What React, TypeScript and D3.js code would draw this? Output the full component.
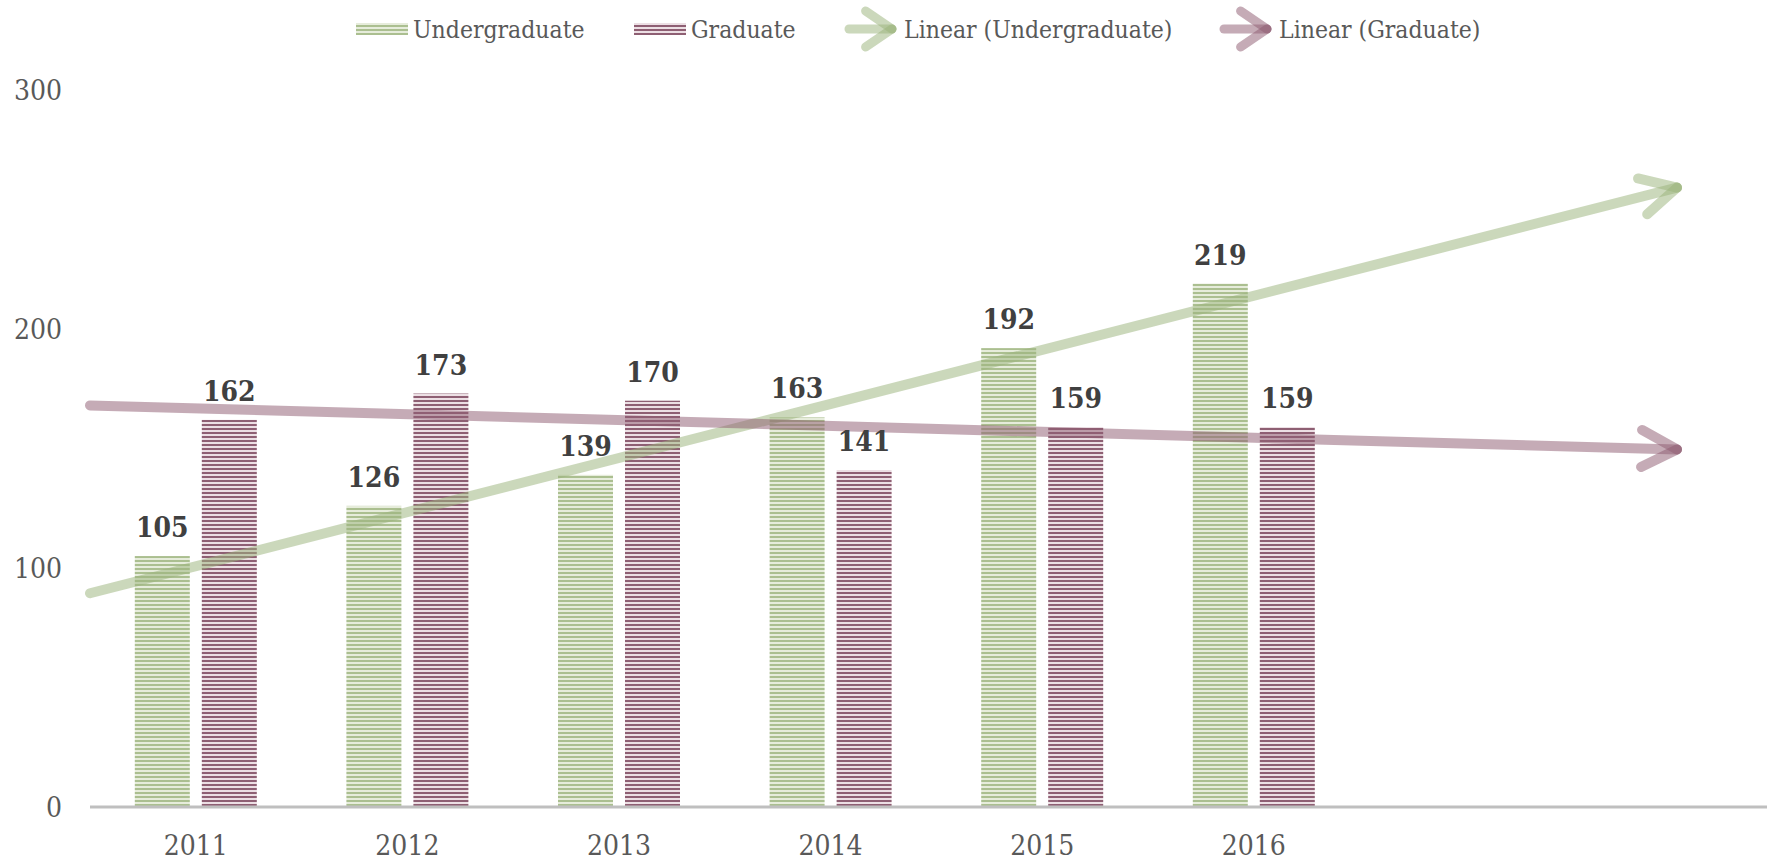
import * as d3 from "d3"

const years = ["2011", "2012", "2013", "2014", "2015", "2016"]
const undergraduate = [105, 126, 139, 163, 192, 219]
const graduate = [162, 173, 170, 141, 159, 159]
const yTicks = [0, 100, 200, 300]
const forecastForward = 2
const forecastBackward = 0.5

const W = 1767
const H = 862
const FONT = "'DejaVu Serif Condensed', 'DejaVu Serif', serif"

const UG_DARK = "#abbf90"
const UG_LIGHT = "#e6ecdb"
const GR_DARK = "#8e5f73"
const GR_LIGHT = "#ecdfe4"
const UG_TREND = "#9bb47c"
const GR_TREND = "#8f5d73"

// least squares on x = 1..n, returns f(x)
function linearFit(values: number[]) {
  const xs = values.map((_, i) => i + 1)
  const mx = d3.mean(xs)!
  const my = d3.mean(values)!
  const num = d3.sum(xs, (x, i) => (x - mx) * (values[i] - my))
  const den = d3.sum(xs, x => (x - mx) ** 2)
  const slope = num / den
  return (x: number) => my + slope * (x - mx)
}

function Arrow({ x1, y1, x2, y2, color, width, arm, angle }: any) {
  const a = Math.atan2(y2 - y1, x2 - x1)
  const arms = [a + Math.PI - angle, a + Math.PI + angle].map(t => [
    x2 + arm * Math.cos(t),
    y2 + arm * Math.sin(t),
  ])
  const common = {
    stroke: color,
    strokeWidth: width,
    strokeLinecap: "round" as const,
    strokeOpacity: 0.52,
  }
  return (
    <g>
      <line x1={x1} y1={y1} x2={x2} y2={y2} {...common} />
      {arms.map(([ax, ay], i) => (
        <line key={i} x1={x2} y1={y2} x2={ax} y2={ay} {...common} />
      ))}
    </g>
  )
}

export default function App() {
  const margin = { left: 90, top: 90, bottom: 807 }
  const step = 211.6

  // index space: category i centered at i + 0.5
  const x = d3.scaleLinear().domain([0, 1]).range([margin.left, margin.left + step])
  const y = d3.scaleLinear().domain([0, 300]).range([margin.bottom, margin.top])

  const barW = 55
  const gap = 12
  const off = (barW + gap) / 2

  const trends = [
    { values: undergraduate, color: UG_TREND },
    { values: graduate, color: GR_TREND },
  ].map(t => {
    const f = linearFit(t.values)
    const t0 = 1 - forecastBackward
    const t1 = t.values.length + forecastForward
    return {
      color: t.color,
      x1: x(t0 - 0.5),
      y1: y(f(t0)),
      x2: x(t1 - 0.5),
      y2: y(f(t1)),
    }
  })

  const series = [
    { name: "Undergraduate", values: undergraduate, pat: "url(#pUg)", dx: -off },
    { name: "Graduate", values: graduate, pat: "url(#pGr)", dx: off },
  ]

  const legendY = 29
  const legend = [
    { kind: "bar", pat: "url(#pUgL)", x: 356, label: "Undergraduate" },
    { kind: "bar", pat: "url(#pGrL)", x: 634, label: "Graduate" },
    { kind: "arrow", color: UG_TREND, x: 845, label: "Linear (Undergraduate)" },
    { kind: "arrow", color: GR_TREND, x: 1220, label: "Linear (Graduate)" },
  ]

  return (
    <svg
      width={W}
      height={H}
      style={{ position: "absolute", left: 0, top: 0, display: "block", background: "#fff" }}
      fontFamily={FONT}
    >
      <defs>
        <pattern id="pUg" patternUnits="userSpaceOnUse" width={4} height={4}>
          <rect width={4} height={4} fill={UG_LIGHT} />
          <rect width={4} height={2} fill={UG_DARK} />
        </pattern>
        <pattern id="pGr" patternUnits="userSpaceOnUse" width={4} height={4}>
          <rect width={4} height={4} fill={GR_LIGHT} />
          <rect width={4} height={2} fill={GR_DARK} />
        </pattern>
        <pattern id="pUgL" patternUnits="userSpaceOnUse" width={4} height={4} y={1}>
          <rect width={4} height={4} fill={UG_LIGHT} />
          <rect width={4} height={2} fill={UG_DARK} />
        </pattern>
        <pattern id="pGrL" patternUnits="userSpaceOnUse" width={4} height={4} y={1}>
          <rect width={4} height={4} fill={GR_LIGHT} />
          <rect width={4} height={2} fill={GR_DARK} />
        </pattern>
      </defs>

      {/* y tick labels */}
      {yTicks.map(t => (
        <text
          key={t}
          x={62}
          y={y(t)}
          textAnchor="end"
          dominantBaseline="central"
          fontSize={28}
          fill="#595959"
        >
          {t}
        </text>
      ))}

      {/* bars */}
      {series.map(s =>
        s.values.map((v, i) => (
          <rect
            key={s.name + i}
            x={x(i + 0.5) + s.dx - barW / 2}
            y={y(v)}
            width={barW}
            height={y(0) - y(v)}
            fill={s.pat}
          />
        ))
      )}

      {/* axis line */}
      <line x1={margin.left} x2={W} y1={y(0)} y2={y(0)} stroke="#bfbfbf" strokeWidth={3} />

      {/* x labels */}
      {years.map((yr, i) => (
        <text
          key={yr}
          x={x(i + 0.5)}
          y={845}
          textAnchor="middle"
          dominantBaseline="central"
          fontSize={28}
          fill="#595959"
        >
          {yr}
        </text>
      ))}

      {/* trend lines */}
      {trends.map((t, i) => (
        <Arrow key={i} {...t} width={10} arm={40} angle={0.48} />
      ))}

      {/* data labels */}
      {series.map(s =>
        s.values.map((v, i) => (
          <text
            key={"l" + s.name + i}
            x={x(i + 0.5) + s.dx}
            y={y(v) - 19}
            textAnchor="middle"
            fontSize={28}
            fontWeight="bold"
            fill="#404040"
          >
            {v}
          </text>
        ))
      )}

      {/* legend */}
      {legend.map(l => (
        <g key={l.label}>
          {l.kind === "bar" ? (
            <rect x={l.x} y={legendY - 6} width={52} height={12} fill={l.pat} />
          ) : (
            <Arrow
              x1={l.x + 4}
              y1={legendY}
              x2={l.x + 47}
              y2={legendY}
              color={l.color}
              width={9}
              arm={32}
              angle={0.6}
            />
          )}
          <text
            x={l.x + (l.kind === "bar" ? 57 : 59)}
            y={legendY}
            dominantBaseline="central"
            fontSize={24.5}
            fill="#595959"
          >
            {l.label}
          </text>
        </g>
      ))}
    </svg>
  )
}
